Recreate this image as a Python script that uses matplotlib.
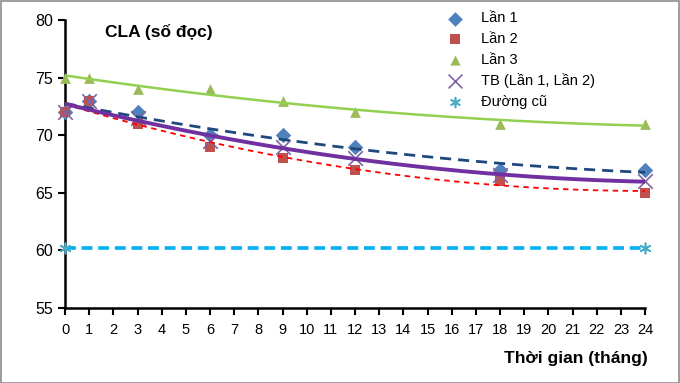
import numpy as np
import matplotlib
matplotlib.use("Agg")
import matplotlib.pyplot as plt
from matplotlib.patches import Rectangle

plt.rcParams['font.family'] = ['Liberation Sans Narrow', 'Liberation Sans', 'DejaVu Sans']

# === data ===
months = [0, 1, 3, 6, 9, 12, 18, 24]
lan1 = [72, 73, 72, 70, 70, 69, 67, 67]
lan2 = [72, 73, 71, 69, 68, 67, 66, 65]
lan3 = [75, 75, 74, 74, 73, 72, 71, 71]
tb = [72, 73, 71.5, 69.5, 69, 68, 66.5, 66]
cu_x = [0, 24]
cu_y = [60.2, 60.2]

x_ticks = list(range(0, 25))
y_ticks = [55, 60, 65, 70, 75, 80]


def trend(xs, ys):
    # polynomial trendline, order 2 (like Excel)
    c = np.polyfit(xs, ys, 2)
    xx = np.linspace(min(xs), max(xs), 200)
    return xx, np.polyval(c, xx)


fig = plt.figure(figsize=(6.8, 3.83), dpi=100)
fig.patches.append(Rectangle((0.001, 0.001), 0.998, 0.997, transform=fig.transFigure,
                             fill=False, edgecolor='#8c8c8c', linewidth=1.2))
ax = fig.add_axes([0.0956, 0.196, 0.853, 0.752])

# markers
ax.scatter(months, lan1, marker='D', s=62, color='#4F81BD', zorder=3, label='Lần 1', linewidths=0, clip_on=False)
ax.scatter(months, lan2, marker='s', s=55, color='#C0504D', zorder=3, label='Lần 2', linewidths=0, clip_on=False)
ax.scatter(months, lan3, marker='^', s=60, color='#9BBB59', zorder=3, label='Lần 3', linewidths=0, clip_on=False)
ax.scatter(months, tb, marker='x', s=110, color='#8064A2', zorder=3, label='TB (Lần 1, Lần 2)', linewidths=1.2,
           clip_on=False)
ax.plot(cu_x, cu_y, color='#00B0F0', linestyle=(0, (3, 1.6)), linewidth=2.6, zorder=2)
ax.scatter(cu_x, cu_y, marker=(6, 2, 0), s=55, color='#4BACC6', zorder=3, label='Đường cũ', linewidths=1.2,
           clip_on=False)

# trendlines
xx, yy = trend(months, lan1)
ax.plot(xx, yy, color='#1F497D', linestyle=(0, (4, 2.5)), linewidth=2.0, zorder=4)
xx, yy = trend(months, lan2)
ax.plot(xx, yy, color='#FF0000', linestyle=(0, (3, 2.5)), linewidth=1.3, zorder=4)
xx, yy = trend(months, lan3)
ax.plot(xx, yy, color='#92D050', linewidth=1.8, zorder=4)
xx, yy = trend(months, tb)
ax.plot(xx, yy, color='#7030A0', linewidth=2.8, zorder=4)

ax.set_xlim(0, 24)
ax.set_ylim(55, 80)
ax.set_xticks(x_ticks)
ax.set_yticks(y_ticks)
ax.tick_params(axis='both', direction='out', length=5, width=1.5, labelsize=10.5, color='black')
ax.tick_params(axis='y', labelsize=11.5)
ax.tick_params(axis='x', pad=6)
for s in ['top', 'right']:
    ax.spines[s].set_visible(False)
for s in ['left', 'bottom']:
    ax.spines[s].set_linewidth(1.8)

ax.text(0.069, 0.985, 'CLA (số đọc)', transform=ax.transAxes, fontsize=12.5, fontweight='bold',
        va='top', ha='left')
fig.text(0.953, 0.045, 'Thời gian (tháng)', fontsize=12.5, fontweight='bold', ha='right', va='bottom')

leg = ax.legend(loc='upper left', bbox_to_anchor=(0.624, 1.075), frameon=False, fontsize=10.5,
                handletextpad=0.8, labelspacing=0.45, scatterpoints=1, markerscale=0.95)

fig.savefig('out.png', dpi=100)
